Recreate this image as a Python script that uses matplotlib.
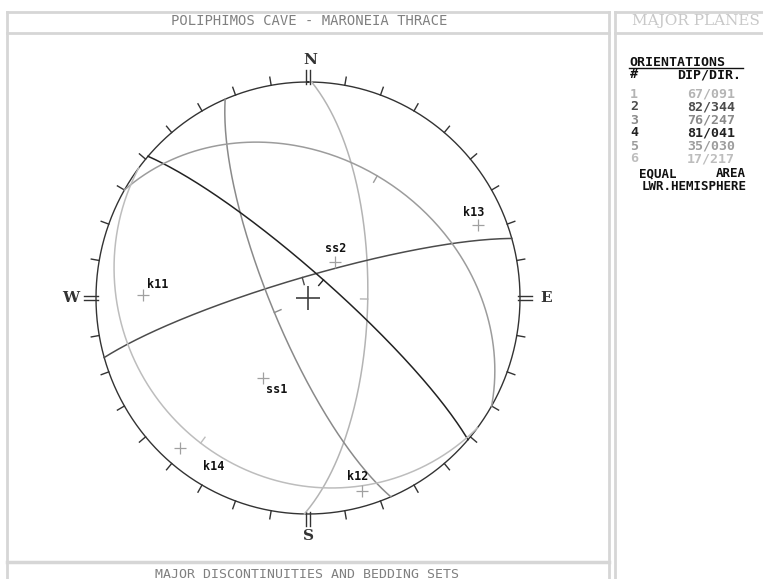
import numpy as np
import matplotlib.pyplot as plt

# planes as listed in the ORIENTATIONS table
plane_ids = ['1', '2', '3', '4', '5', '6']
dips = [67, 82, 76, 81, 35, 17]
dip_dirs = [91, 344, 247, 41, 30, 217]
pole_labels = ['k11', 'k12', 'k13', 'k14', 'ss1', 'ss2']

title = 'POLIPHIMOS CAVE - MARONEIA THRACE'
side_title = 'MAJOR PLANES'
bottom_title = 'MAJOR DISCONTINUITIES AND BEDDING SETS'

# styling
plane_colours = ['#b4b4b4', '#4c4c4c', '#8a8a8a', '#222222', '#9c9c9c', '#bdbdbd']
label_offsets = [(15, 11), (-5, 14), (-4, 12), (33, -19), (14, -12), (1, 13)]  # pixels
frame_colour = '#d6d6d6'
W, H = 763, 579
cx, cy, rx, ry = 308, 298, 212, 216


def project(n, e, d):
    # lower hemisphere equal area (Schmidt), unit primitive
    f = 1.0 / np.sqrt(1.0 + d)
    return e * f, n * f


def great_circle(dip, dip_dir):
    a, b = np.radians(dip_dir), np.radians(dip)
    s = np.array([np.cos(a - np.pi / 2), np.sin(a - np.pi / 2), 0.0])
    dv = np.array([np.cos(b) * np.cos(a), np.cos(b) * np.sin(a), np.sin(b)])
    t = np.linspace(0, np.pi, 181)
    v = np.outer(np.cos(t), s) + np.outer(np.sin(t), dv)
    return project(v[:, 0], v[:, 1], v[:, 2])


def pole(dip, dip_dir):
    a, b = np.radians(dip_dir), np.radians(dip)
    return project(-np.sin(b) * np.cos(a), -np.sin(b) * np.sin(a), np.cos(b))


fig = plt.figure(figsize=(W / 100, H / 100), dpi=100)

# frames and panel text, pixel coordinates
bg = fig.add_axes([0, 0, 1, 1])
bg.set_xlim(0, W)
bg.set_ylim(H, 0)
bg.axis('off')
for x in [7, 609, 615]:
    bg.plot([x, x], [12, H], color=frame_colour, lw=2)
bg.plot([7, 609], [12, 12], color=frame_colour, lw=2)
bg.plot([615, W], [12, 12], color=frame_colour, lw=2)
bg.plot([7, 609], [33, 33], color=frame_colour, lw=2)
bg.plot([615, W], [33, 33], color=frame_colour, lw=2)
bg.plot([7, 609], [562, 562], color=frame_colour, lw=2.5)

mono = 'DejaVu Sans Mono'
bg.text(309, 21, title, ha='center', va='center', family=mono, fontsize=10, color='#808080')
bg.text(632, 21, side_title, ha='left', va='center', family='DejaVu Serif',
        fontsize=11, color='#c8c8c8')
bg.text(307, 574, bottom_title, ha='center', va='center', family=mono, fontsize=9.5, color='#808080')

bg.text(629, 62, 'ORIENTATIONS', ha='left', va='center', family=mono, fontsize=9.5,
        weight='bold', color='#111111')
bg.plot([629, 743], [68, 68], color='#111111', lw=1)
bg.text(630, 75, '#', ha='left', va='center', family=mono, fontsize=9.5, weight='bold', color='#111111')
bg.text(741, 75, 'DIP/DIR.', ha='right', va='center', family=mono, fontsize=9.5,
        weight='bold', color='#111111')
for i in range(len(plane_ids)):
    y = 94 + i * 13
    bg.text(630, y, plane_ids[i], ha='left', va='center', family=mono, fontsize=9.5,
            weight='bold', color=plane_colours[i])
    bg.text(735, y, '%02d/%03d' % (dips[i], dip_dirs[i]), ha='right', va='center', family=mono,
            fontsize=9.5, weight='bold', color=plane_colours[i])
bg.text(658, 177, 'EQUAL', ha='center', va='baseline', family=mono, fontsize=9,
        weight='bold', color='#111111')
bg.text(731, 177, 'AREA', ha='center', va='baseline', family=mono, fontsize=9,
        weight='bold', color='#111111')
bg.text(694, 190, 'LWR.HEMISPHERE', ha='center', va='baseline', family=mono, fontsize=9,
        weight='bold', color='#111111')

# the net itself
ax = fig.add_axes([(cx - rx) / W, 1 - (cy + ry) / H, 2 * rx / W, 2 * ry / H])
ax.set_xlim(-1, 1)
ax.set_ylim(-1, 1)
ax.axis('off')

th = np.radians(np.arange(0, 361, 1))
ax.plot(np.sin(th), np.cos(th), color='#333333', lw=1, clip_on=False)
for az in range(0, 360, 10):
    a = np.radians(az)
    if az % 90 == 0:
        for off in [-0.009, 0.009]:
            px, py = -np.cos(a) * off, np.sin(a) * off
            ax.plot([px + 0.99 * np.sin(a), px + 1.055 * np.sin(a)],
                    [py + 0.99 * np.cos(a), py + 1.055 * np.cos(a)],
                    color='#333333', lw=1, clip_on=False)
    else:
        ax.plot([np.sin(a), 1.038 * np.sin(a)], [np.cos(a), 1.038 * np.cos(a)],
                color='#333333', lw=1, clip_on=False)

cardinals = [('N', 0.01, 1.10), ('S', 0.0, -1.10), ('W', -1.12, 0.0), ('E', 1.125, 0.0)]
for name, x, y in cardinals:
    ax.text(x, y, name, ha='center', va='center', family='DejaVu Serif', weight='bold',
            fontsize=11, color='#333333')

for i in range(len(dips)):
    x, y = great_circle(dips[i], dip_dirs[i])
    ax.plot(x, y, color=plane_colours[i], lw=1.1, clip_on=False)
    # small tick at the dip point, towards the centre
    mx, my = x[90], y[90]
    r = np.hypot(mx, my)
    ax.plot([mx, mx - 0.034 * mx / r], [my, my - 0.034 * my / r],
            color=plane_colours[i], lw=1, clip_on=False)

ax.plot(0, 0, marker='+', ms=17, mew=1.2, color='#404040')

for i in range(len(dips)):
    px, py = pole(dips[i], dip_dirs[i])
    ax.plot(px, py, marker='+', ms=8, mew=0.9, color='#a0a0a0', clip_on=False)
    ax.annotate(pole_labels[i], (px, py), xytext=label_offsets[i], textcoords='offset pixels',
                ha='center', va='center', family=mono, weight='bold', fontsize=8.5,
                color='#111111')

fig.savefig('out.png', dpi=100)
